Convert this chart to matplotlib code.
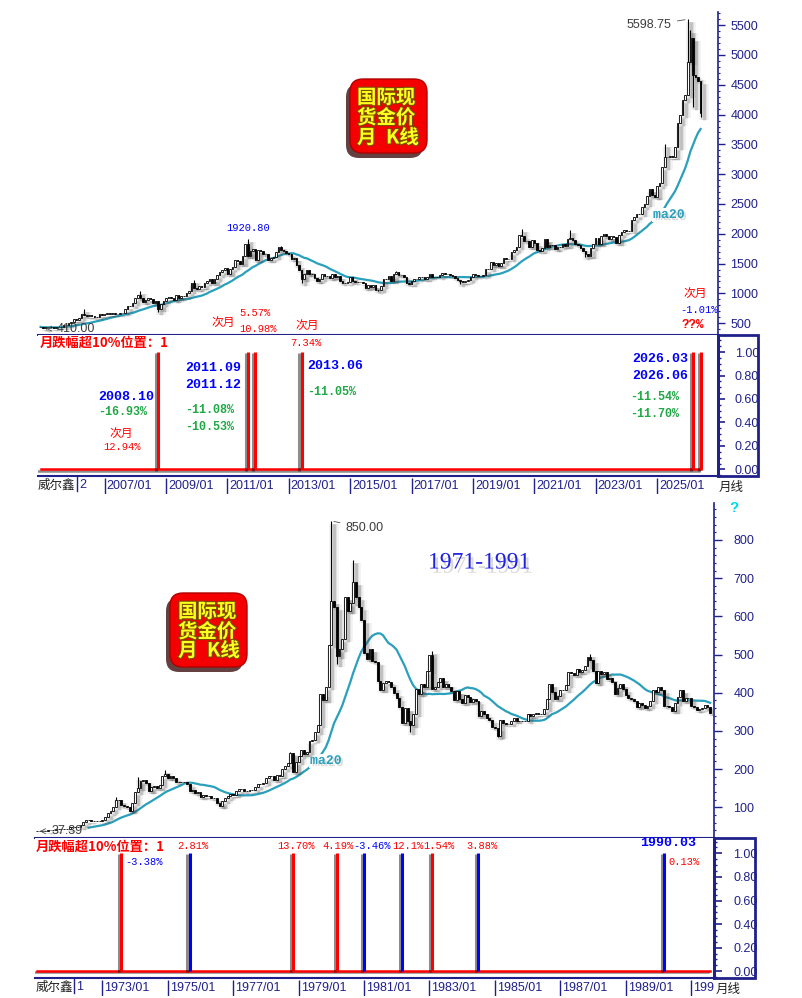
import matplotlib
matplotlib.use("Agg")
import numpy as np
import pandas as pd
from matplotlib import pyplot as plt
from matplotlib import patheffects as pe
from matplotlib.lines import Line2D
from matplotlib.patches import FancyBboxPatch, Rectangle
from matplotlib.ticker import FormatStrFormatter, MultipleLocator
from matplotlib.transforms import IdentityTransform, offset_copy

W, H = 802, 998
NAVY = "#20208a"
MA_COLOR = "#2aa0bc"
GREEN = "#1fa845"
CJK = ["Noto Sans CJK SC", "DejaVu Sans"]
MONO = ["Liberation Mono", "DejaVu Sans Mono"]

plt.rcParams["font.family"] = ["Liberation Sans", "DejaVu Sans"]

# ---- 2004/12 - 2026/06 monthly closes ----
top_start = "2004-12"
top_close = [
    438,
    422, 434, 428, 435, 417, 437, 429, 433, 473, 470, 495, 513,
    569, 556, 582, 654, 643, 614, 633, 623, 599, 604, 646, 632,
    650, 669, 662, 679, 659, 650, 665, 673, 743, 789, 783, 834,
    923, 972, 916, 864, 886, 930, 913, 833, 880, 731, 825, 869,
    927, 942, 916, 883, 979, 927, 955, 955, 1001, 1040, 1182, 1096,
    1081, 1118, 1113, 1179, 1213, 1244, 1181, 1248, 1307, 1357, 1386, 1421,
    1333, 1409, 1439, 1556, 1536, 1500, 1628, 1828, 1625, 1716, 1746, 1562,
    1734, 1710, 1669, 1664, 1560, 1598, 1614, 1692, 1772, 1720, 1713, 1675,
    1663, 1578, 1595, 1472, 1393, 1239, 1330, 1396, 1327, 1323, 1253, 1202,
    1244, 1326, 1284, 1296, 1250, 1327, 1282, 1287, 1210, 1171, 1182, 1184,
    1283, 1213, 1183, 1184, 1191, 1172, 1095, 1133, 1115, 1142, 1065, 1061,
    1118, 1238, 1234, 1293, 1215, 1322, 1351, 1309, 1316, 1277, 1173, 1152,
    1211, 1249, 1249, 1268, 1269, 1242, 1269, 1322, 1280, 1271, 1275, 1303,
    1345, 1318, 1325, 1315, 1299, 1253, 1224, 1202, 1192, 1215, 1222, 1282,
    1321, 1313, 1292, 1284, 1305, 1409, 1414, 1520, 1472, 1513, 1464, 1517,
    1589, 1585, 1577, 1687, 1730, 1781, 1975, 1967, 1886, 1879, 1776, 1898,
    1847, 1734, 1708, 1769, 1906, 1770, 1814, 1813, 1743, 1783, 1774, 1829,
    1797, 1909, 1937, 1897, 1837, 1807, 1766, 1711, 1661, 1634, 1768, 1824,
    1928, 1827, 1969, 1990, 1963, 1919, 1965, 1940, 1849, 1983, 2036, 2063,
    2040, 2044, 2230, 2286, 2327, 2327, 2448, 2503, 2635, 2744, 2657, 2625,
    2798, 2858, 3124, 3289, 3289, 3303, 3290, 3448, 3858, 4000, 4250, 4330,
    4880, 5280, 4671, 4624, 4560, 4026,
]
top_highs = {"2006-05": 730, "2008-03": 1033, "2009-12": 1227, "2011-09": 1920.80,
             "2012-10": 1795, "2016-07": 1375, "2020-08": 2075, "2022-03": 2070,
             "2025-04": 3500, "2026-01": 5598.75, "2026-02": 5420}
top_lows = {"2005-02": 410.00, "2008-10": 681, "2013-06": 1180, "2015-12": 1046,
            "2018-08": 1160, "2022-09": 1615, "2026-03": 4133, "2026-06": 3960}
top_drops = ["2008-10", "2011-09", "2011-12", "2013-06", "2026-03", "2026-06"]
top_date_labels = ["2007/01", "2009/01", "2011/01", "2013/01", "2015/01",
                   "2017/01", "2019/01", "2021/01", "2023/01", "2025/01"]

# ---- 1971/01 - 1991/08 monthly closes ----
bot_start = "1971-01"
bot_close = [
    37.9, 38.7, 38.9, 39.0, 40.5, 40.1, 41.0, 42.7, 42.6, 42.5, 42.9, 43.6,
    48.3, 48.3, 48.3, 49.0, 54.6, 62.1, 65.7, 67.0, 65.2, 64.9, 62.9, 63.9,
    66.0, 74.2, 84.4, 90.5, 102.0, 120.0, 120.0, 106.0, 102.4, 100.1, 90.0, 112.0,
    139.3, 150.0, 168.4, 172.2, 163.3, 143.0, 154.1, 154.6, 151.8, 158.8, 181.7, 186.5,
    175.8, 181.8, 177.3, 167.0, 167.0, 165.6, 166.7, 160.0, 142.0, 146.0, 138.2, 139.3,
    128.2, 132.3, 129.6, 128.4, 125.5, 123.8, 112.5, 104.0, 116.0, 123.2, 130.3, 134.5,
    132.3, 142.8, 148.9, 147.3, 143.0, 143.0, 144.1, 145.3, 154.1, 161.5, 161.0, 164.9,
    175.8, 182.3, 181.6, 170.9, 184.2, 183.1, 200.3, 208.1, 217.1, 242.6, 193.4, 219.9,
    233.7, 251.3, 240.1, 245.3, 274.6, 277.5, 296.5, 315.1, 397.3, 382.0, 415.7, 524.0,
    640.0, 625.0, 495.0, 515.7, 540.0, 650.0, 615.0, 635.0, 690.0, 650.0, 625.0, 590.0,
    505.0, 487.5, 515.0, 482.0, 480.0, 430.0, 408.0, 425.0, 430.0, 427.0, 414.0, 398.0,
    385.0, 362.0, 320.0, 358.7, 325.0, 315.0, 343.0, 410.0, 397.0, 423.0, 415.0, 457.0,
    500.0, 410.0, 416.3, 429.3, 437.5, 416.0, 422.0, 414.3, 405.0, 382.0, 405.0, 382.4,
    373.8, 394.3, 388.5, 375.8, 384.8, 378.0, 340.0, 353.2, 343.8, 333.5, 329.0, 309.0,
    306.7, 287.8, 329.8, 321.4, 316.9, 317.4, 327.0, 333.3, 326.5, 325.1, 325.3, 327.0,
    345.5, 338.2, 344.6, 345.8, 343.2, 345.3, 357.5, 384.7, 423.2, 401.0, 383.5, 391.0,
    405.9, 405.9, 421.1, 453.3, 451.0, 447.3, 462.5, 453.4, 459.5, 468.8, 492.5, 486.5,
    458.0, 426.2, 457.0, 449.0, 455.5, 436.6, 437.4, 427.8, 397.7, 412.4, 422.6, 410.2,
    394.0, 387.0, 383.2, 377.6, 361.8, 373.0, 368.3, 359.8, 366.5, 377.4, 408.2, 401.0,
    415.1, 407.7, 366.0, 366.5, 363.1, 352.2, 372.3, 387.8, 408.4, 379.5, 384.9, 386.2,
    366.0, 362.7, 355.7, 357.7, 360.4, 368.4, 362.9, 347.4,
]
bot_highs = {"1973-06": 128, "1974-02": 180, "1974-12": 197, "1978-10": 245,
             "1980-01": 850.00, "1980-09": 747, "1983-02": 509, "1987-12": 502}
bot_lows = {"1971-01": 37.39, "1976-08": 103, "1980-03": 474, "1982-06": 297, "1985-02": 285}
bot_drops_red = ["1973-08", "1978-11", "1980-03", "1983-02"]
bot_drops_blue = ["1975-09", "1981-01", "1982-03", "1984-07", "1990-03"]
bot_date_labels = ["1973/01", "1975/01", "1977/01", "1979/01", "1981/01",
                   "1983/01", "1985/01", "1987/01", "1989/01", "199"]


def month_index(start, n):
    return {str(p): i for i, p in enumerate(pd.period_range(start, periods=n, freq="M"))}


def px_axes(fig, left, top, right, bottom, **kw):
    return fig.add_axes([left / W, 1 - bottom / H, (right - left) / W, (bottom - top) / H], **kw)


def ptext(fig, x, y, s, **kw):
    kw.setdefault("va", "center")
    return fig.text(x / W, 1 - y / H, s, **kw)


def fig_line(fig, x, y0, y1, **kw):
    fig.add_artist(Line2D([x / W, x / W], [1 - y0 / H, 1 - y1 / H], transform=fig.transFigure, **kw))


def draw_candles(ax, close, highs, lows, idx, width):
    close = np.asarray(close, dtype=float)
    opens = np.r_[close[0], close[:-1]]
    x = np.arange(len(close))
    body_top = np.maximum(opens, close)
    body_bot = np.minimum(opens, close)
    hi = body_top.copy()
    lo = body_bot.copy()
    for m, v in highs.items():
        hi[idx[m]] = v
    for m, v in lows.items():
        lo[idx[m]] = v
    shade = offset_copy(ax.transData, fig=ax.figure, x=3, y=-3, units="dots")
    for lw, alpha in ((7, 0.07), (4, 0.12), (2, 0.18)):
        ax.vlines(x, lo, hi, colors="#404040", linewidth=lw, alpha=alpha, transform=shade, zorder=3)
    ax.vlines(x, lo, hi, colors="black", linewidth=0.8, zorder=4)
    up = close >= opens
    height = body_top - body_bot
    ax.bar(x[up], height[up], width, body_bot[up], facecolor="white", edgecolor="black",
           linewidth=0.6, zorder=5)
    ax.bar(x[~up], height[~up], width, body_bot[~up], facecolor="black", edgecolor="black",
           linewidth=0.6, zorder=5)
    return close


def style_main(ax, ylim, major, minor, tick_len, pad):
    ax.set_ylim(*ylim)
    ax.set_xticks([])
    ax.yaxis.tick_right()
    ax.yaxis.set_major_locator(MultipleLocator(major))
    ax.yaxis.set_minor_locator(MultipleLocator(minor))
    ax.yaxis.set_major_formatter(FormatStrFormatter("%d"))
    ax.tick_params(axis="y", which="major", length=tick_len, width=1, color=NAVY,
                   labelcolor=NAVY, labelsize=9, pad=pad)
    ax.tick_params(axis="y", which="minor", length=1.5, width=0.8, color=NAVY)
    ax.spines["left"].set_visible(False)
    ax.spines["top"].set_visible(False)
    ax.spines["right"].set(color=NAVY, linewidth=1.2)
    ax.spines["bottom"].set(color=NAVY, linewidth=1.5)


def style_signal(ax, ylim, tick_len, pad):
    ax.set_ylim(*ylim)
    ax.set_xticks([])
    ax.yaxis.tick_right()
    ax.set_yticks(np.arange(0, 1.01, 0.2))
    ax.yaxis.set_major_formatter(FormatStrFormatter("%.2f"))
    ax.yaxis.set_minor_locator(MultipleLocator(0.05))
    ax.tick_params(axis="y", which="major", length=tick_len, width=1.2, color=NAVY,
                   labelcolor=NAVY, labelsize=9, pad=pad)
    ax.tick_params(axis="y", which="minor", length=2.5, width=1, color=NAVY)
    ax.spines["left"].set_visible(False)
    ax.spines["top"].set_visible(False)
    ax.spines["right"].set(color=NAVY, linewidth=2)
    ax.spines["bottom"].set(color=NAVY, linewidth=1.5)


def draw_signal(ax, n, idx, months, color, base=True):
    shadow = [pe.SimpleLineShadow(offset=(-1.5, -0.8), shadow_color="black", alpha=0.45), pe.Normal()]
    if base:
        ax.plot(np.arange(n), np.zeros(n), color=color, lw=1.8, path_effects=shadow, zorder=3)
    ax.vlines([idx[m] for m in months], 0, 1, colors=color, lw=2.2, path_effects=shadow,
              zorder=4)


def draw_date_row(ax, idx, labels, start_labels):
    ax.set_ylim(0, 1)
    ax.axis("off")
    shift = offset_copy(ax.transData, fig=ax.figure, x=2, y=0, units="dots")
    for lab, key in zip(labels, start_labels):
        i = idx[key]
        ax.vlines(i, 0, 0.9, color=NAVY, lw=1)
        ax.text(i, 0.42, lab, transform=shift, va="center", ha="left", fontsize=9,
                color=NAVY, clip_on=True)


def badge(fig, x, y, w, h, rows):
    y0 = H - y - h
    fig.add_artist(FancyBboxPatch((x - 4, y0 - 5), w, h, boxstyle="round,pad=0,rounding_size=13",
                                  transform=IdentityTransform(), facecolor="#300000",
                                  edgecolor="none", alpha=0.75))
    fig.add_artist(FancyBboxPatch((x, y0), w, h, boxstyle="round,pad=0,rounding_size=13",
                                  transform=IdentityTransform(), facecolor="#f50000",
                                  edgecolor="#b00000", linewidth=1))
    outline = [pe.withStroke(linewidth=1.6, foreground="#7a4a00")]
    for (tx, ty, s) in rows:
        ptext(fig, tx, ty, s, fontsize=14, fontweight="bold", family=CJK, color="#ffff20",
              path_effects=outline)


def tag(ax, s, xy, dx, dy, ha, color="#3c3c3c", arrow="-", **kw):
    kw.setdefault("fontsize", 9)
    ax.annotate(s, xy=xy, xytext=(dx, dy), textcoords="offset pixels", ha=ha, va="center",
                color=color, zorder=6,
                arrowprops=dict(arrowstyle=arrow, color="#505050", lw=0.6) if arrow else None, **kw)


fig = plt.figure(figsize=(W / 100, H / 100), dpi=100)
fig.patch.set_facecolor("white")

# ================= top panel =================
t_idx = month_index(top_start, len(top_close))
n_t = len(top_close)
ax1 = px_axes(fig, 38, 12, 718, 335)
c = draw_candles(ax1, top_close, top_highs, top_lows, t_idx, 0.6)
ma = pd.Series(c).rolling(20, min_periods=1).mean()
ax1.plot(np.arange(n_t), ma, color=MA_COLOR, lw=1.6, zorder=2)
style_main(ax1, (302, 5721), 500, 100, 5, 4)
ax1.text(653, H - 215, "ma20", transform=IdentityTransform(), family=MONO, fontweight="bold",
         fontsize=9.5, color=MA_COLOR, va="center", zorder=2.5,
         bbox=dict(facecolor="white", edgecolor="none", pad=1),
         path_effects=[pe.SimplePatchShadow(offset=(1.5, -1.5), shadow_rgbFace="#bbbbbb", alpha=0.5), pe.Normal()])
tag(ax1, "5598.75", (t_idx["2026-01"], top_highs["2026-01"]), -16, -6, "right")
tag(ax1, "1920.80", (t_idx["2011-09"], top_highs["2011-09"]), 0, 11, "center", color="blue",
    arrow=None, family=MONO, fontsize=7.5)
tag(ax1, "410.00", (t_idx["2005-02"] - 1, top_lows["2005-02"]), 14, 0, "left", arrow="->")

ax2 = px_axes(fig, 38, 335, 718, 476)
draw_signal(ax2, n_t, t_idx, top_drops, "red")
style_signal(ax2, (-0.056, 1.145), 5, 7)
fig.add_artist(Rectangle((718 / W, 1 - 476 / H), 40 / W, 141 / H, transform=fig.transFigure,
                         fill=False, edgecolor=NAVY, linewidth=2))

ax3 = px_axes(fig, 38, 476, 718, 494, sharex=ax2)
draw_date_row(ax3, t_idx, top_date_labels, [s.replace("/", "-") for s in top_date_labels])
fig_line(fig, 77, 476, 491, color=NAVY, lw=1)
ptext(fig, 79, 485, "2", fontsize=9, color=NAVY)
ptext(fig, 38, 485, "威尔鑫", family=CJK, fontsize=9, color="#202020")
ptext(fig, 719, 487, "月线", family=CJK, fontsize=9, color="#202020")

ax1.set_xlim(-1.0, 264.8)
ax2.set_xlim(-1.0, 264.8)

badge(fig, 350, 79, 77, 74, [(357, 98, "国际现"), (357, 118, "货金价"),
                             (357, 138, "月"), (386, 138, "K线")])

# top labels
red = dict(color="red", family=MONO, fontsize=7.5)
ptext(fig, 211, 322, "次月", color="red", family=CJK, fontsize=8.5)
ptext(fig, 239, 313, "5.57%", **red)
ptext(fig, 239, 329, "10.98%", **red)
ptext(fig, 296, 325, "次月", color="red", family=CJK, fontsize=8.5)
ptext(fig, 290, 343, "7.34%", **red)
ptext(fig, 683, 293, "次月", color="red", family=CJK, fontsize=8.5)
ptext(fig, 680, 310, "-1.01%", color="blue", family=MONO, fontsize=7.5)
ptext(fig, 682, 325, "??%", color="red", family=MONO, fontsize=9, fontweight="bold")

ptext(fig, 40, 343, "月跌幅超10%位置：1", color="red", family=CJK, fontsize=9.5, fontweight="bold")
blue_b = dict(color="blue", family=MONO, fontsize=9.5, fontweight="bold")
green_b = dict(color=GREEN, family=MONO, fontsize=8.5, fontweight="bold")
ptext(fig, 98, 397, "2008.10", **blue_b)
ptext(fig, 98, 412, "-16.93%", **green_b)
ptext(fig, 109, 433, "次月", color="red", family=CJK, fontsize=8.5)
ptext(fig, 103, 447, "12.94%", **red)
ptext(fig, 185, 368, "2011.09", **blue_b)
ptext(fig, 185, 385, "2011.12", **blue_b)
ptext(fig, 185, 410, "-11.08%", **green_b)
ptext(fig, 185, 427, "-10.53%", **green_b)
ptext(fig, 307, 366, "2013.06", **blue_b)
ptext(fig, 307, 392, "-11.05%", **green_b)
ptext(fig, 632, 359, "2026.03", **blue_b)
ptext(fig, 632, 376, "2026.06", **blue_b)
ptext(fig, 630, 397, "-11.54%", **green_b)
ptext(fig, 630, 414, "-11.70%", **green_b)

# ================= bottom panel =================
b_idx = month_index(bot_start, len(bot_close))
n_b = len(bot_close)
bx1 = px_axes(fig, 35, 503, 714, 838)
c = draw_candles(bx1, bot_close, bot_highs, bot_lows, b_idx, 0.7)
ma = pd.Series(c).rolling(20).mean()
bx1.plot(np.arange(n_b), ma, color=MA_COLOR, lw=1.6, zorder=2)
style_main(bx1, (19.6, 896.8), 100, 20, 6, 8)
bx1.text(310, H - 761, "ma20", transform=IdentityTransform(), family=MONO, fontweight="bold",
         fontsize=9.5, color=MA_COLOR, va="center", zorder=2.5,
         bbox=dict(facecolor="white", edgecolor="none", pad=1),
         path_effects=[pe.SimplePatchShadow(offset=(1.5, -1.5), shadow_rgbFace="#bbbbbb", alpha=0.5), pe.Normal()])
tag(bx1, "850.00", (b_idx["1980-01"], bot_highs["1980-01"]), 14, -7, "left")
tag(bx1, "37.39", (b_idx["1971-01"], bot_lows["1971-01"]), 15, 0, "left", arrow="->")
bx1.text(428, H - 563, "1971-1991", transform=IdentityTransform(), family=["Liberation Serif"],
         fontsize=17, color="#2020e0", va="center",
         path_effects=[pe.SimplePatchShadow(offset=(2, -3), shadow_rgbFace="#c0c0c0", alpha=0.6), pe.Normal()])

bx2 = px_axes(fig, 35, 838, 714, 978)
draw_signal(bx2, n_b, b_idx, bot_drops_red, "red")
draw_signal(bx2, n_b, b_idx, bot_drops_blue, "blue", base=False)
style_signal(bx2, (-0.057, 1.13), 6, 8)
fig.add_artist(Rectangle((714 / W, 1 - 978 / H), 41 / W, 140 / H, transform=fig.transFigure,
                         fill=False, edgecolor=NAVY, linewidth=2))

bx3 = px_axes(fig, 35, 978, 714, 996, sharex=bx2)
draw_date_row(bx3, b_idx, bot_date_labels,
              ["1973-01", "1975-01", "1977-01", "1979-01", "1981-01",
               "1983-01", "1985-01", "1987-01", "1989-01", "1991-01"])
fig_line(fig, 74, 978, 993, color=NAVY, lw=1)
ptext(fig, 76, 987, "1", fontsize=9, color=NAVY)
ptext(fig, 36, 987, "威尔鑫", family=CJK, fontsize=9, color="#202020")
ptext(fig, 716, 989, "月线", family=CJK, fontsize=9, color="#202020")

bx1.set_xlim(-0.7, 248.4)
bx2.set_xlim(-0.7, 248.4)

badge(fig, 170, 593, 77, 74, [(178, 612, "国际现"), (178, 632, "货金价"),
                              (178, 651, "月"), (207, 651, "K线")])
ptext(fig, 729, 508, "?", color="#00d8f0", fontsize=11, fontweight="bold")

ptext(fig, 36, 847, "月跌幅超10%位置：1", color="red", family=CJK, fontsize=9.5, fontweight="bold")
ptext(fig, 125, 862, "-3.38%", color="blue", family=MONO, fontsize=7.5)
ptext(fig, 177, 846, "2.81%", **red)
ptext(fig, 277, 846, "13.70%", **red)
ptext(fig, 322, 846, "4.19%", **red)
ptext(fig, 353, 846, "-3.46%", color="blue", family=MONO, fontsize=7.5)
ptext(fig, 392, 846, "12.1%", **red)
ptext(fig, 423, 846, "1.54%", **red)
ptext(fig, 466, 846, "3.88%", **red)
ptext(fig, 640, 843, "1990.03", **blue_b)
ptext(fig, 668, 862, "0.13%", **red)

fig.savefig("out.png", dpi=100)
